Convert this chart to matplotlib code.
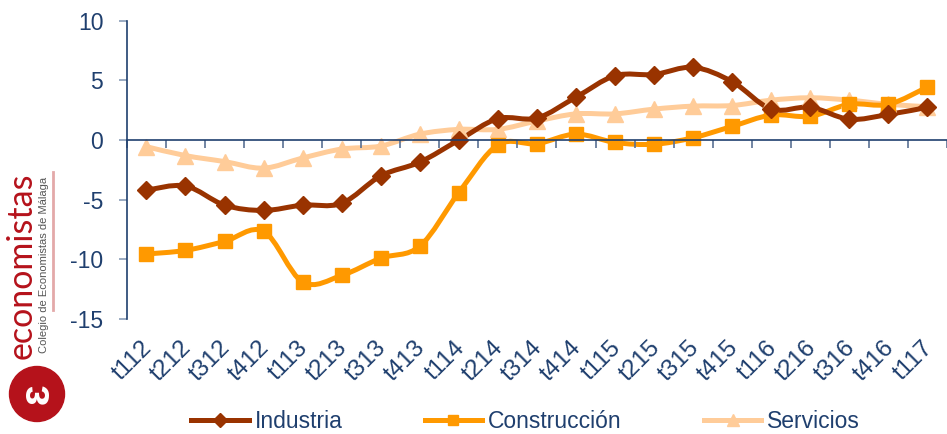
import numpy as np
import matplotlib
matplotlib.use("Agg")
import matplotlib.pyplot as plt
from matplotlib.path import Path
from matplotlib.patches import PathPatch, Ellipse
from matplotlib.lines import Line2D
from matplotlib.transforms import ScaledTranslation

plt.rcParams['font.family'] = ['Liberation Sans', 'DejaVu Sans']
plt.rcParams['axes.unicode_minus'] = False

# data
periods = ['t112', 't212', 't312', 't412', 't113', 't213', 't313', 't413',
           't114', 't214', 't314', 't414', 't115', 't215', 't315', 't415',
           't116', 't216', 't316', 't416', 't117']
industria = [-4.2, -3.85, -5.45, -5.9, -5.45, -5.3, -3.0, -1.85, 0.0, 1.8, 1.85,
             3.6, 5.4, 5.5, 6.1, 4.9, 2.6, 2.75, 1.75, 2.15, 2.75]
construccion = [-9.55, -9.25, -8.5, -7.65, -11.9, -11.35, -9.9, -8.9, -4.4, -0.4, -0.3,
                0.5, -0.2, -0.35, 0.2, 1.15, 2.1, 2.0, 3.0, 3.0, 4.45]
servicios = [-0.55, -1.3, -1.8, -2.35, -1.5, -0.75, -0.5, 0.5, 0.9, 0.9, 1.6,
             2.2, 2.2, 2.6, 2.85, 2.9, 3.35, 3.55, 3.35, 3.0, 2.8]

navy = '#1F3F6E'
col_ind = '#993300'
col_con = '#FF9900'
col_ser = '#FFCC99'


def smooth_path(xs, ys):
    # excel style smoothed line: catmull-rom as cubic bezier
    pts = np.column_stack([xs, ys]).astype(float)
    n = len(pts)
    verts = [pts[0]]
    codes = [Path.MOVETO]
    for i in range(n - 1):
        p0 = pts[i - 1] if i > 0 else pts[i]
        p1 = pts[i]
        p2 = pts[i + 1]
        p3 = pts[i + 2] if i + 2 < n else pts[i + 1]
        verts += [p1 + (p2 - p0) / 6, p2 - (p3 - p1) / 6, p2]
        codes += [Path.CURVE4] * 3
    return Path(verts, codes)


W, H = 947, 434
fig = plt.figure(figsize=(W / 100, H / 100), dpi=100)
ax = fig.add_axes([0.134, 0.265, 0.866, 0.687])

x = np.arange(len(periods))
series = [
    ('Industria', industria, col_ind, 'D', 9),
    ('Construcción', construccion, col_con, 's', 10.5),
    ('Servicios', servicios, col_ser, '^', 11),
]
# servicios underneath like the original
for name, vals, c, m, ms in series[::-1]:
    ax.add_patch(PathPatch(smooth_path(x, vals), fill=False, edgecolor=c, lw=3.6,
                           capstyle='round', joinstyle='round'))
    ax.plot(x, vals, ls='none', marker=m, ms=ms, color=c, mec=c)

ax.set_xlim(-0.5, len(periods) - 0.5)
ax.set_ylim(-15, 10)
ax.set_yticks([-15, -10, -5, 0, 5, 10])

for s in ['top', 'right']:
    ax.spines[s].set_visible(False)
ax.spines['left'].set_color(navy)
ax.spines['left'].set_linewidth(1.2)
ax.spines['bottom'].set_position(('data', 0))
ax.spines['bottom'].set_color(navy)
ax.spines['bottom'].set_linewidth(1.2)

ax.set_xticks(np.arange(len(periods) + 1) - 0.5)
ax.set_xticklabels([])
ax.tick_params(axis='x', direction='out', length=6, width=1.2, color='#5A7194')
ax.tick_params(axis='y', direction='out', length=6, width=1.2, color='#8A9DB8',
               labelsize=16.5, labelcolor=navy, pad=11)

# category labels at the bottom of the plot
sec = ax.secondary_xaxis(0.0)
sec.set_xticks(x)
sec.set_xticklabels(periods, rotation=45, ha='right')
sec.tick_params(length=0, labelsize=17.5, labelcolor=navy, pad=13)
sec.spines['bottom'].set_visible(False)
shift = ScaledTranslation(10 / 100, 0, fig.dpi_scale_trans)
for lab in sec.get_xticklabels():
    lab.set_transform(lab.get_transform() + shift)

# legend
handles = [Line2D([], [], color=c, lw=3.6, marker=m, ms=ms * 0.75)
           for name, vals, c, m, ms in series]
leg = fig.legend(handles, [s[0] for s in series], loc='center', ncol=3,
                 bbox_to_anchor=(0.555, 0.028), frameon=False, handlelength=2.5,
                 handletextpad=0.25, columnspacing=3.6, prop={'size': 16.5})
for t in leg.get_texts():
    t.set_color(navy)

# logo on the left
logo_red = '#B5121B'
fig.text(22 / W, 1 - 266 / H, 'economistas', rotation=90, ha='center', va='center',
         fontsize=24.5, color=logo_red, family=['Lato', 'Liberation Sans'])
fig.text(44 / W, 1 - 265 / H, 'Colegio de Economistas de Málaga', rotation=90,
         ha='center', va='center', fontsize=8, color='#555555')
fig.add_artist(Line2D([53 / W, 53 / W], [1 - 172 / H, 1 - 310 / H],
                      transform=fig.transFigure, color='#E3A9A9', lw=2))
fig.add_artist(Ellipse((37 / W, 1 - 394 / H), 55 / W, 55 / H,
                       transform=fig.transFigure, color=logo_red))
fig.text(38 / W, 1 - 394 / H, 'ɛ', rotation=90, ha='center', va='center',
         fontsize=30, color='white', fontweight='bold')

fig.savefig('out.png', dpi=100)
